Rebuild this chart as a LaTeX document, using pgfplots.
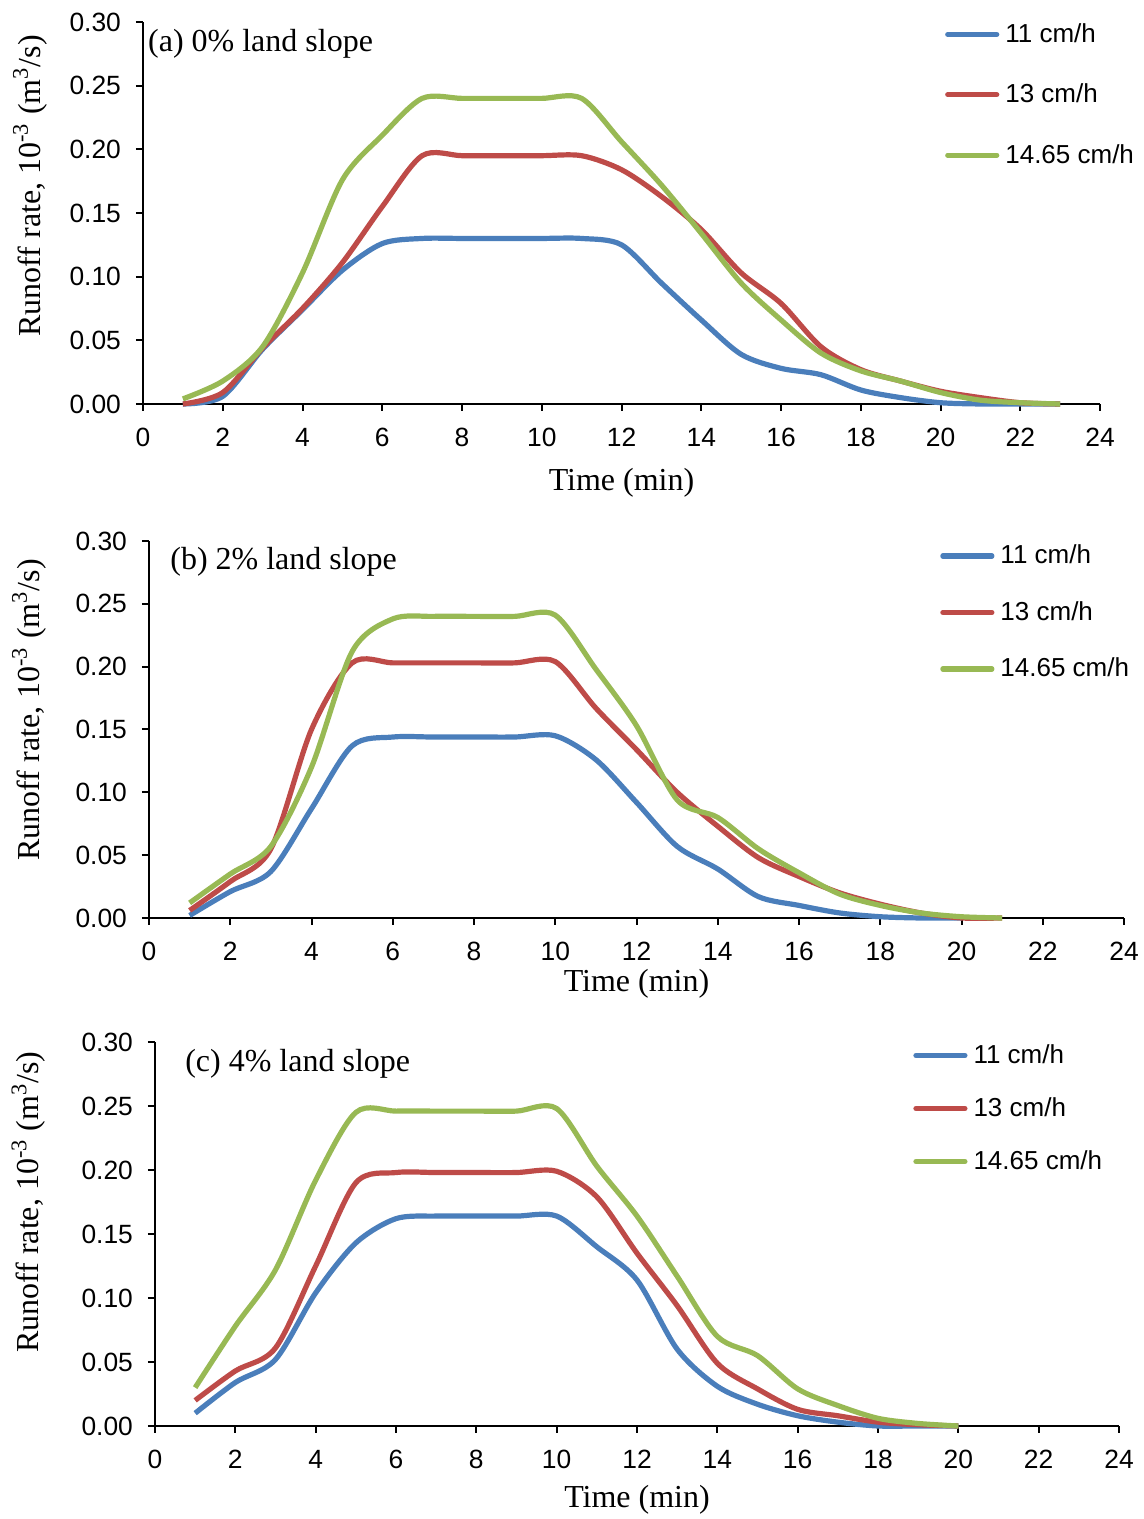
\documentclass[border=0pt]{standalone}
\usepackage{fontspec}
\setmainfont{Liberation Serif}
\newfontfamily\arial{Liberation Sans}
\usepackage{pgfplots}
\pgfplotsset{compat=1.18}

\definecolor{c11}{HTML}{4A7EBB}
\definecolor{c13}{HTML}{BE4B48}
\definecolor{c14}{HTML}{98B954}

\pgfplotsset{
  runoff/.style={
    scale only axis,
    xmin=0, xmax=24, ymin=0, ymax=0.30,
    axis x line=bottom, axis y line=left,
    axis line style={-, line width=1pt},
    xtick={0,2,4,6,8,10,12,14,16,18,20,22,24},
    ytick={0,0.05,0.1,0.15,0.2,0.25,0.3},
    tick align=outside, major tick length=3.5pt,
    tick style={black, line width=1pt},
    ticklabel style={font=\arial\fontsize{13.2}{15}\selectfont},
    x tick label style={yshift=-5pt},
    /pgf/number format/assume math mode=true,
    y tick label style={xshift=-4pt, /pgf/number format/.cd, fixed, fixed zerofill, precision=2, /tikz/.cd},
    clip=false,
    every axis plot/.append style={line width=2.6pt, smooth, no markers},
    legend cell align=left,
    legend style={draw=none, fill=none, anchor=north west,
      font=\arial\fontsize{13}{15}\selectfont,
      nodes={inner sep=1pt}, column sep=2pt},
    legend image code/.code={\draw[#1, line cap=round] (0pt,0pt) -- (24.5pt,0pt);},
    ylabel={Runoff rate, 10\textsuperscript{-3} (m\textsuperscript{3}/s)},
    xlabel={Time (min)},
  }
}

\begin{document}
\begin{tikzpicture}
\path[use as bounding box] (0,0) rectangle (572pt,759.5pt);

% (a) 0% slope
\begin{axis}[runoff,
  at={(71.5pt,557.5pt)}, anchor=south west,
  width=478.5pt, height=191pt,
  every axis y label/.style={at={(axis description cs:-0.118,0.571)}, rotate=90, anchor=center, font=\fontsize{16}{18}\selectfont},
  every axis x label/.style={at={(axis description cs:0.5,0)}, yshift=-39.5pt, anchor=center, font=\fontsize{16}{18}\selectfont},
  legend style={at={(0.8315,1.013)}, row sep=17.3pt}]
\addplot[c11] coordinates {
  (1,0.000)(2,0.006)(3,0.043)(4,0.074)(5,0.105)(6,0.126)(7,0.130)(8,0.130)
  (9,0.130)(10,0.130)(11,0.130)(12,0.125)(13,0.095)(14,0.066)(15,0.039)(16,0.028)
  (17,0.023)(18,0.011)(19,0.005)(20,0.001)(21,0.000)(22,0.000)(23,0.000)};
\addlegendentry{11 cm/h}
\addplot[c13] coordinates {
  (1,0.000)(2,0.009)(3,0.044)(4,0.075)(5,0.111)(6,0.155)(7,0.195)(8,0.195)
  (9,0.195)(10,0.195)(11,0.195)(12,0.184)(13,0.163)(14,0.137)(15,0.103)(16,0.079)
  (17,0.045)(18,0.027)(19,0.018)(20,0.010)(21,0.005)(22,0.001)(23,0.000)};
\addlegendentry{13 cm/h}
\addplot[c14] coordinates {
  (1,0.004)(2,0.018)(3,0.045)(4,0.103)(5,0.176)(6,0.211)(7,0.240)(8,0.240)
  (9,0.240)(10,0.240)(11,0.240)(12,0.206)(13,0.172)(14,0.134)(15,0.095)(16,0.066)
  (17,0.040)(18,0.026)(19,0.018)(20,0.009)(21,0.003)(22,0.001)(23,0.000)};
\addlegendentry{14.65 cm/h}
\node[anchor=west, inner sep=0pt, font=\fontsize{16}{18}\selectfont]
  at (axis description cs:0.005,0.943) {(a) 0\% land slope};
\end{axis}

% (b) 2% slope
\begin{axis}[runoff,
  at={(74.5pt,300.5pt)}, anchor=south west,
  width=487.5pt, height=188.5pt,
  every axis y label/.style={at={(axis description cs:-0.123,0.552)}, rotate=90, anchor=center, font=\fontsize{16}{18}\selectfont},
  every axis x label/.style={at={(axis description cs:0.5,0)}, yshift=-33pt, anchor=center, font=\fontsize{16}{18}\selectfont},
  legend style={at={(0.805,1.006)}, row sep=15.3pt}]
\addplot[c11] coordinates {
  (1,0.002)(2,0.021)(3,0.037)(4,0.087)(5,0.137)(6,0.144)(7,0.144)(8,0.144)
  (9,0.144)(10,0.145)(11,0.126)(12,0.092)(13,0.057)(14,0.039)(15,0.017)(16,0.010)
  (17,0.004)(18,0.001)(19,0.000)(20,0.000)};
\addlegendentry{11 cm/h}
\addplot[c13] coordinates {
  (1,0.006)(2,0.029)(3,0.055)(4,0.150)(5,0.203)(6,0.203)(7,0.203)(8,0.203)
  (9,0.203)(10,0.204)(11,0.167)(12,0.134)(13,0.100)(14,0.073)(15,0.048)(16,0.033)
  (17,0.020)(18,0.011)(19,0.004)(20,0.000)(21,0.000)};
\addlegendentry{13 cm/h}
\addplot[c14] coordinates {
  (1,0.012)(2,0.035)(3,0.057)(4,0.120)(5,0.212)(6,0.238)(7,0.240)(8,0.240)
  (9,0.240)(10,0.241)(11,0.198)(12,0.153)(13,0.094)(14,0.080)(15,0.055)(16,0.036)
  (17,0.019)(18,0.010)(19,0.004)(20,0.001)(21,0.000)};
\addlegendentry{14.65 cm/h}
\node[anchor=west, inner sep=0pt, font=\fontsize{16}{18}\selectfont]
  at (axis description cs:0.0215,0.944) {(b) 2\% land slope};
\end{axis}

% (c) 4% slope
\begin{axis}[runoff,
  at={(77.5pt,46.5pt)}, anchor=south west,
  width=482pt, height=192pt,
  every axis y label/.style={at={(axis description cs:-0.131,0.583)}, rotate=90, anchor=center, font=\fontsize{16}{18}\selectfont},
  every axis x label/.style={at={(axis description cs:0.5,0)}, yshift=-37pt, anchor=center, font=\fontsize{16}{18}\selectfont},
  legend style={at={(0.780,1.010)}, row sep=13.6pt}]
\addplot[c11] coordinates {
  (1,0.010)(2,0.034)(3,0.052)(4,0.104)(5,0.143)(6,0.162)(7,0.164)(8,0.164)
  (9,0.164)(10,0.164)(11,0.140)(12,0.114)(13,0.060)(14,0.031)(15,0.017)(16,0.008)
  (17,0.003)(18,0.000)(19,0.000)(20,0.000)};
\addlegendentry{11 cm/h}
\addplot[c13] coordinates {
  (1,0.020)(2,0.043)(3,0.061)(4,0.125)(5,0.190)(6,0.198)(7,0.198)(8,0.198)
  (9,0.198)(10,0.199)(11,0.179)(12,0.135)(13,0.094)(14,0.049)(15,0.029)(16,0.013)
  (17,0.008)(18,0.003)(19,0.001)(20,0.000)};
\addlegendentry{13 cm/h}
\addplot[c14] coordinates {
  (1,0.030)(2,0.078)(3,0.122)(4,0.192)(5,0.245)(6,0.246)(7,0.246)(8,0.246)
  (9,0.246)(10,0.248)(11,0.203)(12,0.164)(13,0.117)(14,0.070)(15,0.055)(16,0.029)
  (17,0.016)(18,0.006)(19,0.002)(20,0.000)};
\addlegendentry{14.65 cm/h}
\node[anchor=west, inner sep=0pt, font=\fontsize{16}{18}\selectfont]
  at (axis description cs:0.031,0.943) {(c) 4\% land slope};
\end{axis}
\end{tikzpicture}
\end{document}
